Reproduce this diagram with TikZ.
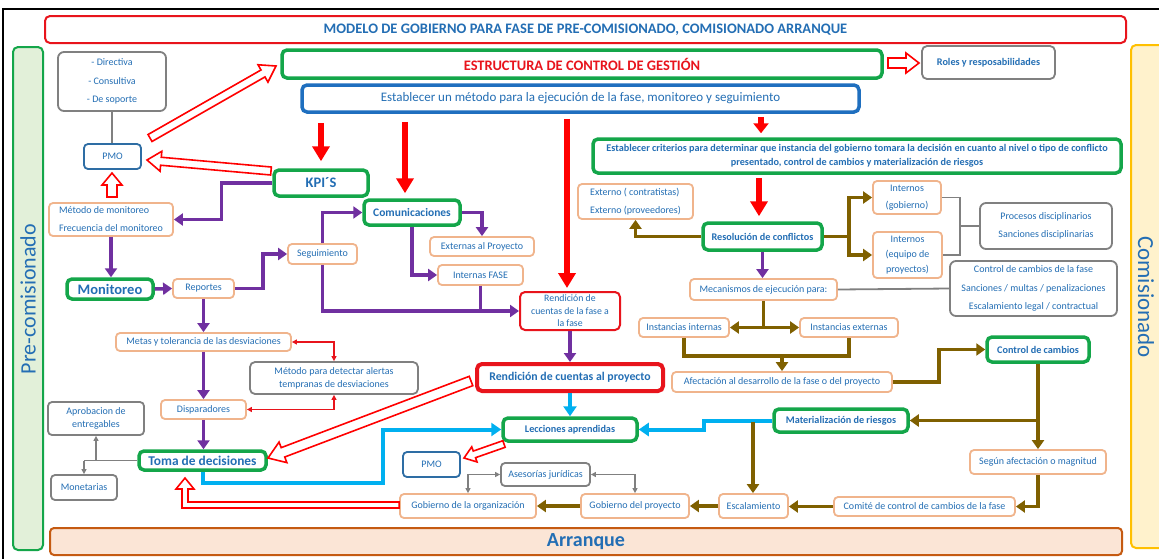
\documentclass[tikz,border=0pt]{standalone}
\usepackage{fontspec}
\setmainfont{Carlito}
\usetikzlibrary{arrows.meta,calc}
\definecolor{txtblue}{HTML}{236EB4}
\definecolor{greenc}{HTML}{14A64A}
\definecolor{redc}{HTML}{E8141C}
\definecolor{redarrow}{HTML}{FF0000}
\definecolor{peachc}{HTML}{F0B48C}
\definecolor{grayc}{HTML}{808080}
\definecolor{purpc}{HTML}{7030A0}
\definecolor{brownc}{HTML}{7F6000}
\definecolor{cyanc}{HTML}{00B0F0}
\definecolor{pmoc}{HTML}{2E6DA4}
\definecolor{bluec}{HTML}{1F6FBF}
\definecolor{lgreen}{HTML}{E2F0D9}
\definecolor{lyellow}{HTML}{FFF2CC}
\definecolor{yellowc}{HTML}{FFC000}
\definecolor{lpeach}{HTML}{FBE5D6}
\definecolor{arrc}{HTML}{C55A11}
\newcommand\bx[7]{\node[#2, minimum width={(#5)-(#3)}, minimum height={(#6)-(#4)}] (#1) at ({((#3)+(#5))/2},{((#4)+(#6))/2}) {#7};}
\newcommand\harr[5]{%
 \coordinate (hM) at ($(#2)!#5!(#1)$);
 \draw[hollow] ($(#1)!#3!90:(#2)$) -- ($(hM)!#3!90:(#2)$) -- ($(hM)!#4!90:(#2)$) -- (#2) -- ($(hM)!#4!-90:(#2)$) -- ($(hM)!#3!-90:(#2)$) -- ($(#1)!#3!-90:(#2)$) -- cycle;}
\tikzset{
 box/.style={rounded corners=4pt, inner sep=0pt, align=center, text=txtblue, fill=white, font=\fontsize{10}{18}\selectfont},
 peach/.style={box, draw=peachc, line width=1.8pt},
 grayb/.style={box, draw=grayc, line width=1.8pt},
 greenb/.style={box, draw=greenc, line width=3.5pt, rounded corners=5pt, font=\bfseries\fontsize{10.2}{13.5}\selectfont},
 pmob/.style={box, draw=pmoc, line width=1.8pt},
 purp/.style={draw=purpc, line width=3.5pt},
 brn/.style={draw=brownc, line width=3.5pt},
 cyn/.style={draw=cyanc, line width=4pt, >={Triangle[length=10pt,width=13pt]}},
 gline/.style={draw=grayc, line width=1.8pt, >={Triangle[length=5pt,width=5pt]}},
 rthin/.style={draw=redc, line width=1.8pt, >={Triangle[length=5pt,width=5pt]}},
 rthick/.style={draw=redarrow, line width=6pt, -{Triangle[length=15pt,width=17pt]}},
 hollow/.style={draw=redarrow, fill=white, line width=1.6pt, line join=miter},
}
\begin{document}
\begin{tikzpicture}[x=1pt,y=-1pt, >={Triangle[length=9pt,width=12pt]}]
\useasboundingbox (0,0) rectangle (1159,558);
\fill[white] (0,0) rectangle (1159,558);
\draw[black, line width=1.5pt] (3,570) -- (3,9) -- (1170,9);
% side bars
\draw[draw=greenc, fill=lgreen, line width=2pt, rounded corners=5pt] (13,47) rectangle (43,550);
\node[rotate=90, text=txtblue, font=\fontsize{22}{22}\selectfont] (pretxt) at (28,299) {Pre-comisionado};
\draw[draw=yellowc, fill=lyellow, line width=2pt, rounded corners=5pt] (1131,45) rectangle (1180,548);
\node[rotate=-90, text=txtblue, font=\fontsize{23}{23}\selectfont] (comtxt) at (1146,297) {Comisionado};
\bx{arr}{box, draw=arrc, fill=lpeach, line width=2pt, font=\bfseries\fontsize{20}{22}\selectfont}{50}{528}{1122}{555}{Arranque}
% top
\bx{title}{box, draw=redc, line width=2pt, rounded corners=5pt, font=\bfseries\fontsize{14.5}{16}\selectfont}{45}{16}{1126}{43}{MODELO DE GOBIERNO PARA FASE DE PRE-COMISIONADO, COMISIONADO ARRANQUE}
\bx{estr}{greenb, text=redc, font=\bfseries\fontsize{14.5}{16}\selectfont}{282}{50}{882}{78}{ESTRUCTURA DE CONTROL DE GESTIÓN}
\bx{roles}{grayb, rounded corners=5pt, font=\bfseries\fontsize{10.2}{12}\selectfont}{922}{46}{1055}{79}{Roles y resposabilidades}
\bx{metodo}{box, draw=bluec, line width=3.5pt, rounded corners=5pt, font=\fontsize{13}{15}\selectfont}{302}{85}{859}{112}{Establecer un método para la ejecución de la fase, monitoreo y seguimiento}
\bx{tipos}{grayb, rounded corners=6pt, font=\fontsize{10}{18.5}\selectfont}{58}{52}{166}{111}{- Directiva\\- Consultiva\\- De soporte}
\bx{pmoa}{pmob}{84}{144}{141}{169}{PMO}
\bx{kpi}{greenb, font=\bfseries\fontsize{14.5}{16}\selectfont}{274}{170}{368}{196}{KPI´S}
\bx{metmon}{peach, align=left}{49}{203}{173}{236}{Método de monitoreo\\Frecuencia del monitoreo}
\bx{monit}{greenb, font=\bfseries\fontsize{14.5}{16}\selectfont}{67}{279}{153}{299}{Monitoreo}
\bx{rep}{peach}{173}{279}{234}{298}{Reportes}
\bx{seg}{peach}{288}{244}{357}{264}{Seguimiento}
\bx{comu}{greenb, font=\bfseries\fontsize{11.5}{13}\selectfont}{364}{200}{460}{225}{Comunicaciones}
\bx{ext}{peach}{430}{237}{534}{256}{Externas al Proyecto}
\bx{intf}{peach}{438}{265}{523}{285}{Internas FASE}
\bx{rfase}{box, draw=redc, line width=2pt, rounded corners=5pt, font=\fontsize{9.8}{12.5}\selectfont}{520}{292}{620}{330}{Rendición de\\cuentas de la fase a\\la fase}
\bx{rproy}{box, draw=redc, line width=4pt, rounded corners=5pt, font=\bfseries\fontsize{11.8}{13}\selectfont}{477}{364}{663}{391}{Rendición de cuentas al proyecto}
\bx{lecc}{greenb}{503}{418}{637}{441}{Lecciones aprendidas}
\bx{pmob}{pmob}{403}{452}{460}{477}{PMO}
\bx{ases}{grayb}{501}{463}{590}{486}{Asesorías jurídicas}
\bx{gorg}{peach}{400}{494}{536}{518}{Gobierno de la organización}
\bx{gproy}{peach}{581}{494}{689}{518}{Gobierno del proyecto}
\bx{esc}{peach}{719}{494}{788}{518}{Escalamiento}
\bx{comite}{peach}{834}{497}{1015}{516}{Comité de control de cambios de la fase}
\bx{segun}{peach}{970}{450}{1106}{474}{Según afectación o magnitud}
\bx{ccamb}{greenb}{987}{337}{1089}{362}{Control de cambios}
\bx{mater}{greenb}{774}{409}{908}{432}{Materialización de riesgos}
\bx{afect}{peach}{672}{372}{892}{392}{Afectación al desarrollo de la fase o del proyecto}
\bx{iint}{peach}{639}{318}{729}{337}{Instancias internas}
\bx{iext}{peach}{800}{318}{898}{337}{Instancias externas}
\bx{mecan}{peach}{690}{279}{837}{300}{Mecanismos de ejecución para:}
\bx{ccf}{grayb, rounded corners=6pt, font=\fontsize{10}{18.5}\selectfont}{950}{261}{1117}{316}{Control de cambios de la fase\\Sanciones / multas / penalizaciones\\Escalamiento legal / contractual}
\bx{crit}{greenb}{593}{139}{1121}{173}{Establecer criterios para determinar que instancia del gobierno tomara la decisión en cuanto al nivel o tipo de conflicto\\presentado, control de cambios y materialización de riesgos}
\bx{resol}{greenb}{703}{223}{822}{250}{Resolución de conflictos}
\bx{extn}{peach, align=left}{578}{184}{693}{219}{Externo ( contratistas)\\Externo (proveedores)}
\bx{igob}{peach, font=\fontsize{10}{17}\selectfont}{873}{181}{941}{214}{Internos\\(gobierno)}
\bx{ieq}{peach, font=\fontsize{10}{15}\selectfont}{873}{232}{942}{278}{Internos\\(equipo de\\proyectos)}
\bx{proc}{grayb, rounded corners=6pt}{980}{203}{1112}{249}{Procesos disciplinarios\\Sanciones disciplinarias}
\bx{metas}{peach}{116}{333}{291}{351}{Metas y tolerancia de las desviaciones}
\bx{disp}{peach}{161}{400}{246}{419}{Disparadores}
\bx{alert}{grayb, rounded corners=5pt, font=\fontsize{10}{13}\selectfont}{250}{362}{418}{394}{Método para detectar alertas\\tempranas de desviaciones}
\bx{toma}{greenb, font=\bfseries\fontsize{13.4}{15}\selectfont}{139}{451}{266}{470}{Toma de decisiones}
\bx{aprob}{grayb, font=\fontsize{10}{13}\selectfont}{48}{402}{144}{435}{Aprobacion de\\entregables}
\bx{monet}{grayb}{51}{475}{117}{500}{Monetarias}
% purple connectors
\draw[purp,->] (kpi.west) -- ++(-51,0) |- (metmon.east);
\draw[purp,->] (metmon.south) -- (metmon.south |- monit.north);
\draw[purp,->] (monit.east) -- (rep.west);
\draw[purp,->] (rep.east) -- ++(28,0) |- (seg.west);
\draw[purp,->] (seg.north) |- (comu.west);
\draw[purp,->] (seg.south) |- (rfase.west);
\draw[purp] (intf.south) -- (intf.south |- rfase.west);
\draw[purp,->] (comu.east) -| (ext.north);
\draw[purp,->] (comu.south) |- (intf.west);
\draw[purp,->] (rfase.south) -- (rproy.north);
\draw[purp,->] (rep.south) -- (rep.south |- metas.north);
\draw[purp,->] (metas.south) -- (metas.south |- disp.north);
\draw[purp,->] (disp.south) -- (disp.south |- toma.north);
\draw[purp,->] (resol.south) -- (resol.south |- mecan.north);
% red solid arrows
\draw[rthick, shorten <=9pt, shorten >=7pt] (metodo.south -| kpi.north) -- (kpi.north);
\draw[rthick, shorten <=8pt, shorten >=5pt] (metodo.south -| 405,0) -- (comu.north -| 405,0);
\draw[rthick, shorten <=5pt, shorten >=3pt] (metodo.south -| 567,0) -- (rfase.north -| 567,0);
\draw[rthick, -{Triangle[length=10pt,width=15pt]}, shorten <=3pt, shorten >=4pt] (metodo.south -| 761,0) -- (crit.north -| 761,0);
\draw[rthick, shorten <=3pt, shorten >=5pt] (crit.south -| 759,0) -- (resol.north -| 759,0);
% red thin double arrows
\draw[rthin,<->] (metas.east) -| (alert.north);
\draw[rthin,<->] (disp.east) -| (alert.south);
% cyan
\draw[cyn,->] (rproy.south) -- (lecc.north);
\draw[cyn,->] (toma.south) |- (383,483) |- (lecc.west);
\draw[cyn,->] (mater.west) -- ++(-68,0) |- (lecc.east);
\coordinate (escsrc) at (753,422);
% brown
\draw[brn,->] (resol.west) -| (extn.south);
\draw[brn,->] (resol.east) -- ++(25,0) |- (igob.west);
\draw[brn,->] (resol.east) -- ++(25,0) |- (ieq.west);
\draw[brn] (mecan.south) -- (mecan.south |- iint.east);
\draw[brn,<->] (iint.east) -- (iext.west);
\draw[brn] (iint.south) |- (849,356) -- (iext.south);
\draw[brn,->] (afect.north |- 0,356) -- (afect.north);
\draw[brn,->] (afect.east) -- ++(46,0) |- (ccamb.west);
\draw[brn,->] (ccamb.south) -- (ccamb.south |- segun.north);
\draw[brn,->] (ccamb.south |- mater.east) -- (mater.east);
\draw[brn,->] (segun.south) |- (comite.east);
\draw[brn,->] (comite.west) -- (esc.east |- comite.west);
\draw[brn,->] (esc.west) -- (gproy.east);
\draw[brn,->] (gproy.west) -- (gorg.east);
\draw[brn,->] (escsrc) -- (esc.north -| escsrc);
% gray
\draw[gline] (tipos.south) -- (tipos.south |- pmoa.north);
\draw[gline] (toma.west) -- (toma.west -| monet.north);
\draw[gline,->] (toma.west -| aprob.south) -- (aprob.south);
\draw[gline,->] (toma.west -| monet.north) -- (monet.north);
\draw[gline,<->] (gorg.north) |- (ases.west);
\draw[gline,<->] (gproy.north) |- (ases.east);
\draw[gline] (mecan.east) -- (ccf.west);
\draw[gline] (igob.east) -| (960,226) |- (ieq.east);
\draw[gline] (960,226) -- (proc.west);
% hollow arrows
\coordinate (h1a) at (150,138); \coordinate (h1b) at (276,66);
\harr{h1a}{h1b}{4pt}{10pt}{15pt}
\coordinate (h2a) at (271,171); \coordinate (h2b) at (147,160);
\harr{h2a}{h2b}{4pt}{10pt}{14pt}
\coordinate (h3a) at (112,197); \coordinate (h3b) at (112,173);
\harr{h3a}{h3b}{5pt}{10pt}{12pt}
\coordinate (h4a) at (888,63); \coordinate (h4b) at (919,63);
\harr{h4a}{h4b}{5pt}{10pt}{13pt}
\coordinate (h5a) at (471,381); \coordinate (h5b) at (268,458);
\harr{h5a}{h5b}{5pt}{11pt}{16pt}
\coordinate (h6a) at (504,444); \coordinate (h6b) at (464,458);
\harr{h6a}{h6b}{3.5pt}{8pt}{11pt}
\draw[hollow] (gorg.west |- 0,502) -- (188,502) -- (188,489) -- (194,489) -- (185,478) -- (176,489) -- (182,489) -- (182,508) -- (gorg.west |- 0,508) -- cycle;
\end{tikzpicture}
\end{document}
